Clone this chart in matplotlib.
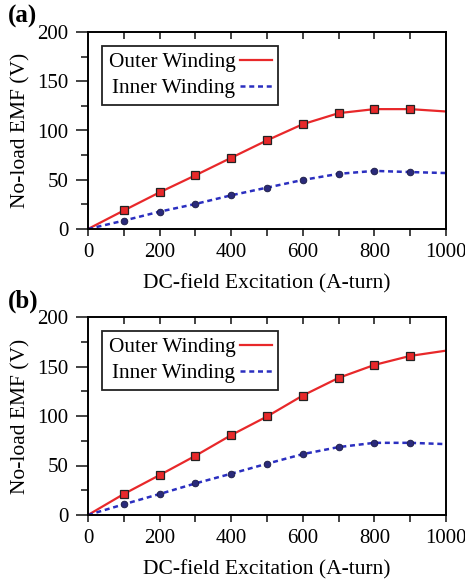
import matplotlib
matplotlib.use("Agg")
import matplotlib.pyplot as plt
from matplotlib.ticker import MultipleLocator
from matplotlib.lines import Line2D

plt.rcParams['font.family'] = ['Liberation Serif', 'DejaVu Serif']

x = [0, 100, 200, 300, 400, 500, 600, 700, 800, 900, 1000]
x_marks = [100, 200, 300, 400, 500, 600, 700, 800, 900]

outer_a = [0, 18.8, 37.2, 54.5, 72.3, 90.0, 106.4, 117.6, 121.7, 121.7, 119.3]
inner_a = [0, 8.5, 17.6, 25.4, 34.2, 42.0, 49.8, 56.0, 59.0, 57.8, 56.8]
outer_b = [0, 21.2, 40.3, 59.8, 80.7, 99.5, 120.7, 138.5, 151.6, 160.7, 166.0]
inner_b = [0, 10.8, 21.2, 31.9, 41.7, 51.8, 61.5, 68.6, 72.9, 72.9, 71.6]

panels = [("(a)", outer_a, inner_a), ("(b)", outer_b, inner_b)]
xticks = [0, 200, 400, 600, 800, 1000]
yticks = [0, 50, 100, 150, 200]

fig = plt.figure(figsize=(4.65, 5.82), dpi=100)
W, H = 465, 582
boxes = [(88, 32, 446, 229), (88, 317, 446, 515)]

red = '#e8282a'
blue = '#2b2fc0'

for (lab, outer, inner), (l, t, r, b) in zip(panels, boxes):
    ax = fig.add_axes([l / W, 1 - b / H, (r - l) / W, (b - t) / H])
    ax.plot(x, outer, color=red, lw=1.6, zorder=2)
    ax.plot(x, inner, color=blue, lw=1.8, ls=(0, (2, 1.5)), zorder=2)
    idx = [x.index(v) for v in x_marks]
    ax.plot(x_marks, [outer[i] for i in idx], ls='none', marker='s', ms=6,
            mfc=red, mec='#222222', mew=0.9, zorder=3)
    ax.plot(x_marks, [inner[i] for i in idx], ls='none', marker='o', ms=4.8,
            mfc='#2a2a7a', mec='#1a1a40', mew=0.6, zorder=3)
    ax.set_xlim(0, 1000)
    ax.set_ylim(0, 200)
    ax.set_xticks(xticks)
    ax.set_yticks(yticks)
    ax.xaxis.set_minor_locator(MultipleLocator(100))
    ax.yaxis.set_minor_locator(MultipleLocator(25))
    ax.tick_params(which='both', direction='out', top=False, right=False,
                   labelsize=15, width=1.2, color='#222222')
    ax.tick_params(axis='y', which='major', length=9, pad=5)
    ax.tick_params(axis='y', which='minor', length=5)
    ax.tick_params(axis='x', which='both', length=5)
    ax.tick_params(axis='x', which='major', pad=5)
    sec = ax.secondary_xaxis('top')
    sec.set_xticks(x_marks)
    sec.tick_params(direction='in', length=5, width=1.2, labeltop=False,
                    color='#222222')
    sec.spines['top'].set_visible(False)
    for s in ax.spines.values():
        s.set_linewidth(1.4)
    ax.set_xlabel('DC-field Excitation (A-turn)', fontsize=15.5, labelpad=9)
    ax.set_ylabel('No-load EMF (V)', fontsize=15.5, labelpad=5)
    handles = [Line2D([], [], color=red, lw=1.6),
               Line2D([], [], color=blue, lw=1.8, ls=(0, (2, 1.5)))]
    leg = ax.legend(handles, ['Outer Winding', 'Inner Winding'],
                    loc='upper left', bbox_to_anchor=(0.04, 0.93),
                    markerfirst=False, fontsize=15.3, fancybox=False,
                    framealpha=1, edgecolor='#222222', handlelength=1.5,
                    handletextpad=0.2, borderpad=0.3, labelspacing=0.3,
                    borderaxespad=0)
    leg.get_frame().set_linewidth(1.3)
    fig.text(8 / W, 1 - (t - 16) / H, lab, fontsize=18, fontweight='bold',
             va='center', ha='left')

fig.savefig('out.png', dpi=100)
